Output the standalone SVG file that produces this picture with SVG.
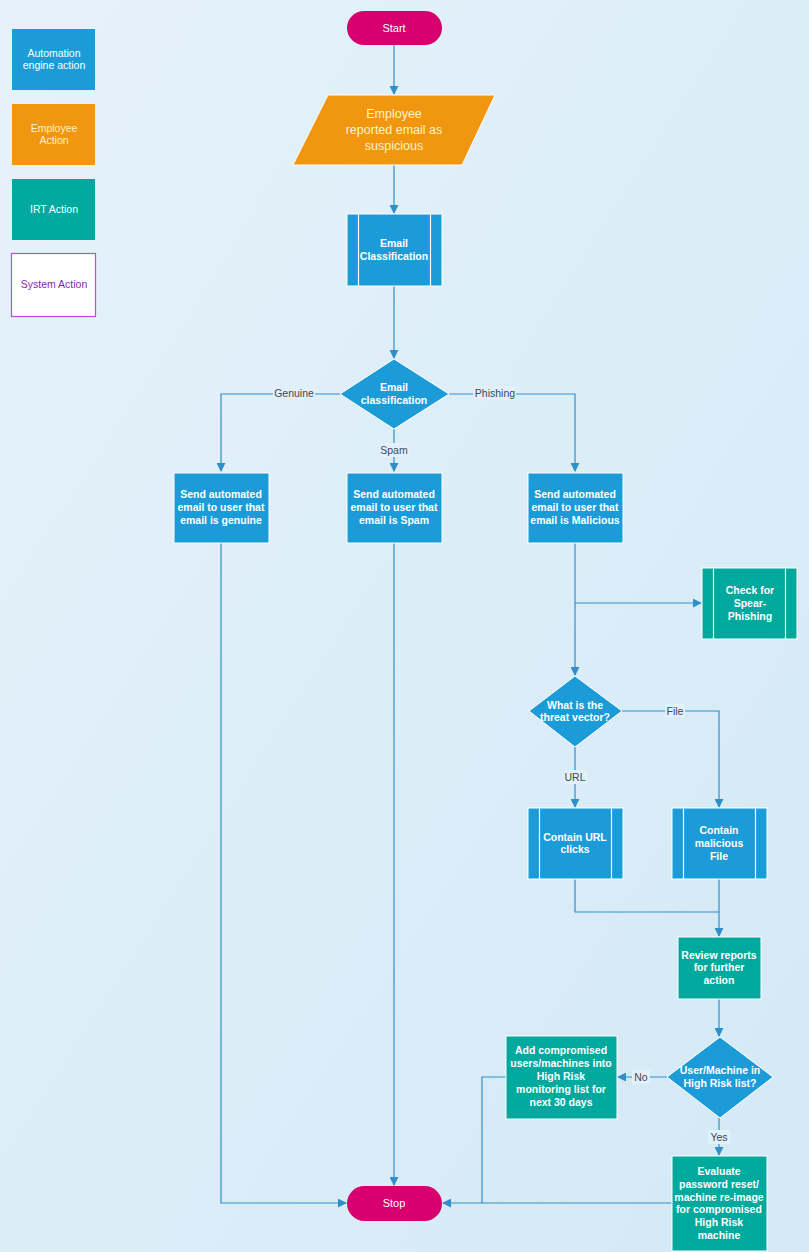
<svg xmlns="http://www.w3.org/2000/svg" width="809" height="1252" viewBox="0 0 809 1252">
<defs>
<linearGradient id="bg" x1="0" y1="0" x2="1" y2="1">
<stop offset="0" stop-color="#e6f2fa"/>
<stop offset="1" stop-color="#d3e9f6"/>
</linearGradient>
<marker id="arr" viewBox="0 0 10 10" refX="9" refY="5" markerWidth="9" markerHeight="9" markerUnits="userSpaceOnUse" orient="auto">
<path d="M0,0 L10,5 L0,10 z" fill="#2e8fc9"/>
</marker>
<style>
text{font-family:"Liberation Sans",Arial,sans-serif;text-anchor:middle}
.t{fill:#fff;font-size:10.5px;font-weight:bold}
.lg{fill:#fff;font-size:10.5px}
.blue{fill:#1b9cd8;stroke:#ffffff;stroke-width:1}
.teal{fill:#00a99e;stroke:#ffffff;stroke-width:1}
.bar{stroke:#ffffff;stroke-width:1.2}
.term{fill:#d7006e}
.c{fill:none;stroke:#2e8fc9;stroke-width:1.2}
.lab{fill:#3b4a58;font-size:10.5px}
.lbg{fill:#e2f0f9}
</style>
</defs>
<rect width="809" height="1252" fill="url(#bg)"/>

<g id="legend">
<rect x="12" y="29" width="83" height="61" fill="#1b9cd8"/>
<text class="lg" x="54" y="57">Automation</text>
<text class="lg" x="54" y="69">engine action</text>
<rect x="12" y="104" width="83" height="61" fill="#f0960f"/>
<text class="lg" x="54" y="132" style="fill:#fff3c4">Employee</text>
<text class="lg" x="54" y="144" style="fill:#fff3c4">Action</text>
<rect x="12" y="179" width="83" height="61" fill="#00a99e"/>
<text class="lg" x="54" y="213">IRT Action</text>
<rect x="11.5" y="253.5" width="84" height="63" fill="#ffffff" stroke="#b550d8" stroke-width="1.2"/>
<text class="lg" x="54" y="288" style="fill:#8a1fb0">System Action</text>
</g>

<g id="connectors">
<path class="c" d="M394,45 V94" marker-end="url(#arr)"/>
<path class="c" d="M394,165 V213" marker-end="url(#arr)"/>
<path class="c" d="M394,286 V358" marker-end="url(#arr)"/>
<path class="c" d="M340,394 H221 V471" marker-end="url(#arr)"/>
<path class="c" d="M394,429 V471" marker-end="url(#arr)"/>
<path class="c" d="M449,394 H575 V471" marker-end="url(#arr)"/>
<path class="c" d="M221,543 V1203 H346" marker-end="url(#arr)"/>
<path class="c" d="M394,543 V1185" marker-end="url(#arr)"/>
<path class="c" d="M575,543 V675" marker-end="url(#arr)"/>
<path class="c" d="M575,603 H701" marker-end="url(#arr)"/>
<path class="c" d="M622,711 H719 V807" marker-end="url(#arr)"/>
<path class="c" d="M575,747 V807" marker-end="url(#arr)"/>
<path class="c" d="M575,879 V912 H719"/>
<path class="c" d="M719,879 V936" marker-end="url(#arr)"/>
<path class="c" d="M719,999 V1036" marker-end="url(#arr)"/>
<path class="c" d="M667,1077 H618" marker-end="url(#arr)"/>
<path class="c" d="M506,1077 H482 V1203"/>
<path class="c" d="M719,1118 V1155" marker-end="url(#arr)"/>
<path class="c" d="M672,1203 H443" marker-end="url(#arr)"/>
<rect class="lbg" x="273" y="386" width="42" height="14"/>
<text class="lab" x="294" y="397">Genuine</text>
<rect class="lbg" x="473" y="386" width="43" height="14"/>
<text class="lab" x="495" y="397">Phishing</text>
<rect class="lbg" x="380" y="443" width="29" height="14"/>
<text class="lab" x="394" y="454">Spam</text>
<rect class="lbg" x="665" y="704" width="20" height="14"/>
<text class="lab" x="675" y="715">File</text>
<rect class="lbg" x="564" y="770" width="23" height="14"/>
<text class="lab" x="575" y="781">URL</text>
<rect class="lbg" x="632" y="1070" width="18" height="14"/>
<text class="lab" x="641" y="1081">No</text>
<rect class="lbg" x="708" y="1130" width="22" height="14"/>
<text class="lab" x="719" y="1141">Yes</text>
</g>

<g id="start">
<rect x="347" y="11" width="95" height="34" rx="17" class="term"/>
<text x="394" y="32" style="fill:#fff;font-size:11px">Start</text>
</g>

<g id="employee">
<polygon points="328,95 495,95 462,165 293,165" fill="#f0960f" stroke="#ffffff" stroke-width="1"/>
<text x="394" y="118" style="fill:#fff3c4;font-size:12.5px">Employee</text>
<text x="394" y="134" style="fill:#fff3c4;font-size:12.5px">reported email as</text>
<text x="394" y="150" style="fill:#fff3c4;font-size:12.5px">suspicious</text>
</g>

<g id="emailClassification">
<rect x="347" y="214" width="95" height="72" class="blue"/>
<path class="bar" d="M358.5,214 V286 M430.5,214 V286"/>
<text class="t" x="394" y="247">Email</text>
<text class="t" x="394" y="260">Classification</text>
</g>

<g id="classDecision">
<polygon points="394,359 449,394 394,429 340,394" class="blue"/>
<text class="t" x="394" y="391">Email</text>
<text class="t" x="394" y="404">classification</text>
</g>

<g id="genuine">
<rect x="174" y="473" width="95" height="70" class="blue"/>
<text class="t" x="221" y="498">Send automated</text>
<text class="t" x="221" y="511">email to user that</text>
<text class="t" x="221" y="524">email is genuine</text>
</g>

<g id="spam">
<rect x="347" y="473" width="95" height="70" class="blue"/>
<text class="t" x="394" y="498">Send automated</text>
<text class="t" x="394" y="511">email to user that</text>
<text class="t" x="394" y="524">email is Spam</text>
</g>

<g id="malicious">
<rect x="528" y="473" width="95" height="70" class="blue"/>
<text class="t" x="575" y="498">Send automated</text>
<text class="t" x="575" y="511">email to user that</text>
<text class="t" x="575" y="524">email is Malicious</text>
</g>

<g id="spear">
<rect x="702" y="568" width="95" height="71" class="teal"/>
<path class="bar" d="M713.5,568 V639 M785.5,568 V639"/>
<text class="t" x="750" y="594">Check for</text>
<text class="t" x="750" y="607">Spear-</text>
<text class="t" x="750" y="620">Phishing</text>
</g>

<g id="threatDecision">
<polygon points="575,676 622,711 575,747 529,711" class="blue"/>
<text class="t" x="575" y="709">What is the</text>
<text class="t" x="575" y="721">threat vector?</text>
</g>

<g id="containUrl">
<rect x="528" y="808" width="95" height="71" class="blue"/>
<path class="bar" d="M539.5,808 V879 M611.5,808 V879"/>
<text class="t" x="575" y="841">Contain URL</text>
<text class="t" x="575" y="853">clicks</text>
</g>

<g id="containFile">
<rect x="672" y="808" width="95" height="71" class="blue"/>
<path class="bar" d="M683.5,808 V879 M755.5,808 V879"/>
<text class="t" x="719" y="834">Contain</text>
<text class="t" x="719" y="847">malicious</text>
<text class="t" x="719" y="860">File</text>
</g>

<g id="review">
<rect x="678" y="937" width="83" height="62" class="teal"/>
<text class="t" x="719" y="959">Review reports</text>
<text class="t" x="719" y="971">for further</text>
<text class="t" x="719" y="984">action</text>
</g>

<g id="riskDecision">
<polygon points="720,1037 773,1077 720,1118 667,1077" class="blue"/>
<text class="t" x="720" y="1074">User/Machine in</text>
<text class="t" x="720" y="1087">High Risk list?</text>
</g>

<g id="addMonitoring">
<rect x="506" y="1036" width="111" height="83" class="teal"/>
<text class="t" x="561" y="1054">Add compromised</text>
<text class="t" x="561" y="1067">users/machines into</text>
<text class="t" x="561" y="1080">High Risk</text>
<text class="t" x="561" y="1093">monitoring list for</text>
<text class="t" x="561" y="1106">next 30 days</text>
</g>

<g id="evaluate">
<rect x="672" y="1156" width="95" height="95" class="teal"/>
<text class="t" x="719" y="1175">Evaluate</text>
<text class="t" x="719" y="1188">password reset/</text>
<text class="t" x="719" y="1201">machine re-image</text>
<text class="t" x="719" y="1213">for compromised</text>
<text class="t" x="719" y="1226">High Risk</text>
<text class="t" x="719" y="1239">machine</text>
</g>

<g id="stop">
<rect x="347" y="1186" width="95" height="35" rx="17.5" class="term"/>
<text x="394" y="1207" style="fill:#fff;font-size:11px">Stop</text>
</g>
</svg>
